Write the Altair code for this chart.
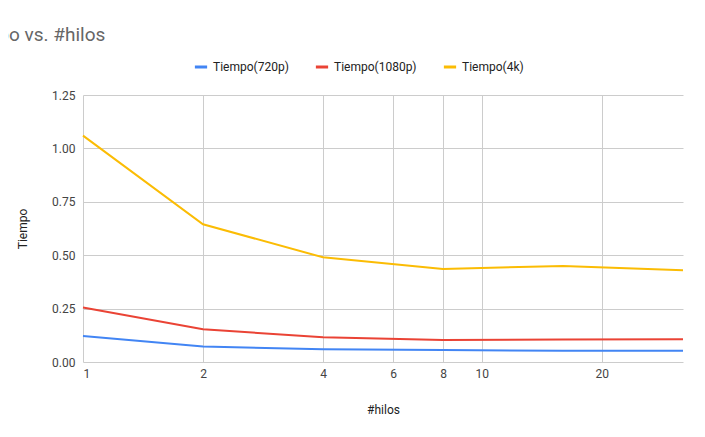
import altair as alt
import pandas as pd

hilos = [1, 2, 4, 8, 16, 32]
t720 = [0.122, 0.072, 0.06, 0.056, 0.053, 0.053]
t1080 = [0.255, 0.153, 0.116, 0.103, 0.105, 0.107]
t4k = [1.06, 0.645, 0.49, 0.435, 0.45, 0.43]
series = ["Tiempo(720p)", "Tiempo(1080p)", "Tiempo(4k)"]
colors = ["#4285F4", "#EA4335", "#FBBC04"]

rows = []
for name, vals in zip(series, [t720, t1080, t4k]):
    for h, v in zip(hilos, vals):
        rows.append({"hilos": h, "tiempo": v, "serie": name})
df = pd.DataFrame(rows)

chart = alt.Chart(df).mark_line(strokeWidth=2).encode(
    x=alt.X("hilos:Q", scale=alt.Scale(type="log", domain=[1, 32], nice=False),
            axis=alt.Axis(values=[1, 2, 4, 6, 8, 10, 20], title="#hilos", titlePadding=25,
                          format="d", ticks=False, domain=False, labelPadding=6)),
    y=alt.Y("tiempo:Q", scale=alt.Scale(domain=[0, 1.25]),
            axis=alt.Axis(values=[0, 0.25, 0.5, 0.75, 1.0, 1.25], format=".2f", title="Tiempo",
                          ticks=False, domain=False, titlePadding=22, labelPadding=8)),
    color=alt.Color("serie:N", sort=series, scale=alt.Scale(domain=series, range=colors),
                    legend=alt.Legend(title=None, orient="none", direction="horizontal",
                                      legendX=110, legendY=-36, symbolType="stroke",
                                      symbolStrokeWidth=3, symbolSize=150, labelFontSize=12,
                                      labelColor="#222", columnPadding=20)),
).properties(
    width=600, height=267,
    autosize=alt.AutoSizeParams(type="none"),
    padding={"left": 75, "top": 87, "right": 14, "bottom": 67},
    title=alt.TitleParams("Tiempo vs. #hilos", anchor="start", dx=-61, offset=14,
                          fontSize=19, fontWeight="normal", color="#666", font="Roboto"),
).configure_axis(
    gridColor="#cccccc", labelColor="#444", labelFontSize=12, titleColor="#222",
    titleFontSize=12, titleFontWeight="normal", labelFont="Roboto", titleFont="Roboto"
).configure_legend(labelFont="Roboto").configure_view(stroke=None)

chart.save("out.html", embed_options={"renderer": "svg", "actions": False})
